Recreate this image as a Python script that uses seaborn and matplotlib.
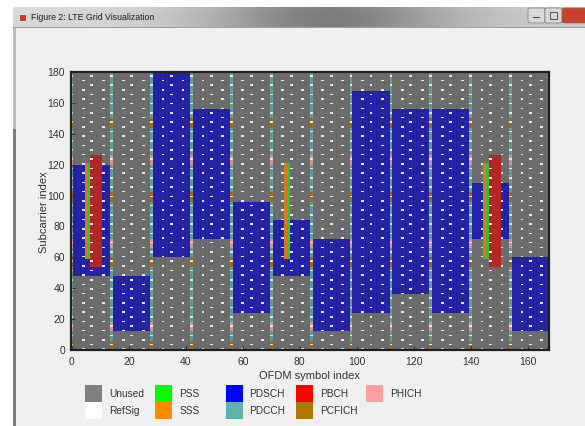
import numpy as np
import matplotlib
matplotlib.use("Agg")
import matplotlib.pyplot as plt
from matplotlib.colors import ListedColormap
from matplotlib.patches import Rectangle, FancyBboxPatch
import seaborn as sns

# ---- resource grid description -------------------------------------------
n_subcarriers = 180
n_symbols = 168
symbols_per_subframe = 14

# PDSCH allocation per subframe (subcarrier range, end exclusive)
pdsch_low = [48, 12, 60, 72, 24, 48, 12, 24, 36, 24, 72, 12]
pdsch_high = [120, 48, 180, 156, 96, 84, 72, 168, 156, 156, 108, 60]

# control region
pdcch_symbols = [0]
pcfich_reg_start = [0, 54, 96, 144]
phich_reg_start = [12, 66, 120]

# cell-specific reference signals
crs_symbols = [0, 4, 7, 11]
crs_offsets = [0, 3, 0, 3]
crs_vshift = 3

# synchronisation and broadcast
sync_subframes = [0, 5, 10]
pbch_subframes = [0, 10]
sss_symbol = 5
pss_symbol = 6
pbch_symbols = [7, 8, 9, 10]
sync_low, sync_high = 59, 121
pbch_low, pbch_high = 54, 126

legend_labels = ["Unused", "RefSig", "PSS", "SSS", "PDSCH",
                 "PDCCH", "PBCH", "PCFICH", "PHICH"]
legend_colors = ["#808080", "#ffffff", "#00ff00", "#ff8c00", "#0000ff",
                 "#5fb0ae", "#ff0000", "#b07800", "#ffa0a0"]
# element colours as they appear once the dark cell outlines are drawn
mesh_colors = ["#6a6a6a", "#e8e8e8", "#3cbe2a", "#d2781e", "#1f1fa4",
               "#5a9c9a", "#b42222", "#9a6a10", "#d89090"]

UNUSED, REFSIG, PSS, SSS, PDSCH, PDCCH, PBCH, PCFICH, PHICH = range(9)

# ---- build the grid ------------------------------------------------------
grid = np.full((n_subcarriers, n_symbols), UNUSED, dtype=int)
n_sf = n_symbols // symbols_per_subframe
for sf in range(n_sf):
    s0 = sf * symbols_per_subframe
    # PDSCH after the control region
    grid[pdsch_low[sf]:pdsch_high[sf], s0 + len(pdcch_symbols):s0 + symbols_per_subframe] = PDSCH
    # control region
    for s in pdcch_symbols:
        grid[:, s0 + s] = PDCCH
        for k in pcfich_reg_start:
            grid[k:k + 6, s0 + s] = PCFICH
        for k in phich_reg_start:
            grid[k:k + 6, s0 + s] = PHICH
    # synchronisation signals
    if sf in sync_subframes:
        grid[sync_low:sync_high, s0 + sss_symbol] = SSS
        grid[sync_low:sync_high, s0 + pss_symbol] = PSS
    if sf in pbch_subframes:
        for s in pbch_symbols:
            grid[pbch_low:pbch_high, s0 + s] = PBCH
    # reference signals
    for s, off in zip(crs_symbols, crs_offsets):
        ks = np.arange((off + crs_vshift) % 6, n_subcarriers, 6)
        grid[ks, s0 + s] = REFSIG

# ---- figure with window frame --------------------------------------------
W, H = 585, 427
fig = plt.figure(figsize=(W / 100, H / 100), dpi=100, facecolor="white")


def fx(x):
    return x / W


def fy(y):
    return 1 - y / H


# window body
fig.add_artist(Rectangle((fx(13), 0), fx(W - 13), fy(8), transform=fig.transFigure,
                         facecolor="#f0f0f0", edgecolor="none", zorder=0))
# left frame
fig.add_artist(Rectangle((fx(13), 0), fx(3), fy(28), transform=fig.transFigure,
                         facecolor="#7c7c7c", edgecolor="none", zorder=1))
fig.add_artist(Rectangle((fx(13), fy(130)), fx(3), fy(28) - fy(130), transform=fig.transFigure,
                         facecolor="#bdbdbd", edgecolor="none", zorder=1))
# title bar gradient
tb = fig.add_axes([fx(13), fy(28), fx(W - 13), fy(8) - fy(28)], zorder=2)
xs = np.linspace(0, 1, 300)
shade = 0.86 - 0.33 * np.exp(-((xs - 0.55) / 0.22) ** 2) - 0.05 * xs
tb.imshow(np.vstack([shade, shade * 0.97, shade * 0.99]), cmap="gray", vmin=0, vmax=1,
          aspect="auto", interpolation="bicubic")
tb.set_axis_off()
fig.add_artist(Rectangle((fx(13), fy(29)), fx(W - 13), fy(28) - fy(29), transform=fig.transFigure,
                         facecolor="#a0a0a0", edgecolor="none", zorder=3))
# window icon and caption
fig.add_artist(Rectangle((fx(19), fy(22)), fx(7), fy(15) - fy(22), transform=fig.transFigure,
                         facecolor="#d03a2a", edgecolor="#f4f4f4", linewidth=0.6, zorder=4))
fig.text(fx(31), fy(18), "Figure 2: LTE Grid Visualization", fontsize=6.3,
         family="Liberation Sans", color="#1e1e1e", va="center", ha="left", zorder=5)
# caption buttons
for x0, w, c in [(528, 17, "#d8d8d8"), (545, 17, "#d8d8d8"), (562, 26, "#c8412e")]:
    fig.add_artist(FancyBboxPatch((fx(x0), fy(24)), fx(w), fy(9) - fy(24),
                                  boxstyle="round,pad=0,rounding_size=0.004",
                                  transform=fig.transFigure, facecolor=c,
                                  edgecolor="#7a7a7a", linewidth=0.5, zorder=4))
fig.add_artist(Rectangle((fx(533), fy(19)), fx(7), fy(18) - fy(19), transform=fig.transFigure,
                         facecolor="#404040", edgecolor="none", zorder=5))
fig.add_artist(Rectangle((fx(550), fy(20)), fx(7), fy(13) - fy(20), transform=fig.transFigure,
                         facecolor="none", edgecolor="#404040", linewidth=0.6, zorder=5))

# ---- resource grid plot --------------------------------------------------
ax = fig.add_axes([fx(70.5), fy(351), fx(549) - fx(70.5), fy(73) - fy(351)], zorder=3)
cmap = ListedColormap(mesh_colors)
sns.heatmap(grid, cmap=cmap, vmin=-0.5, vmax=len(mesh_colors) - 0.5, cbar=False,
            linewidths=0, ax=ax)
ax.invert_yaxis()
ax.set_xlim(0, n_symbols)
ax.set_ylim(0, n_subcarriers)
# faint element boundaries along the symbol axis
ax.vlines(np.arange(1, n_symbols), 0, n_subcarriers, colors="#c8c8c8",
          linewidth=0.3, alpha=0.18)

xt = np.arange(0, 161, 20)
yt = np.arange(0, 181, 20)
ax.set_xticks(xt + 0.5)
ax.set_xticklabels([str(v) for v in xt], rotation=0)
ax.set_yticks(yt)
ax.set_yticklabels([str(v) for v in yt], rotation=0)
ax.tick_params(direction="in", length=3, width=0.6, colors="#262626",
               labelsize=7.5, pad=4)
for lab in ax.get_xticklabels() + ax.get_yticklabels():
    lab.set_family("Liberation Sans")
    lab.set_color("#333333")
ax.set_xlabel("OFDM symbol index", fontsize=8, family="Liberation Sans",
              color="#333333", labelpad=3)
ax.set_ylabel("Subcarrier index", fontsize=8, family="Liberation Sans",
              color="#333333", labelpad=-1)
for sp in ax.spines.values():
    sp.set_visible(True)
    sp.set_linewidth(1.6)
    sp.set_color("#222222")

# ---- legend (two rows, five columns) --------------------------------------
sq = 17
for i, (lab, col) in enumerate(zip(legend_labels, legend_colors)):
    c, r = divmod(i, 2)
    x0 = 85 + 70.3 * c
    y0 = 386 + sq * r
    fig.add_artist(Rectangle((fx(x0), fy(y0 + sq)), fx(sq), fy(y0) - fy(y0 + sq),
                             transform=fig.transFigure, facecolor=col,
                             edgecolor="none", zorder=4))
    fig.text(fx(x0 + sq + 7), fy(y0 + sq / 2), lab, fontsize=7.3,
             family="Liberation Sans", color="#333333", va="center", ha="left", zorder=5)

fig.savefig("out.png", dpi=100)
